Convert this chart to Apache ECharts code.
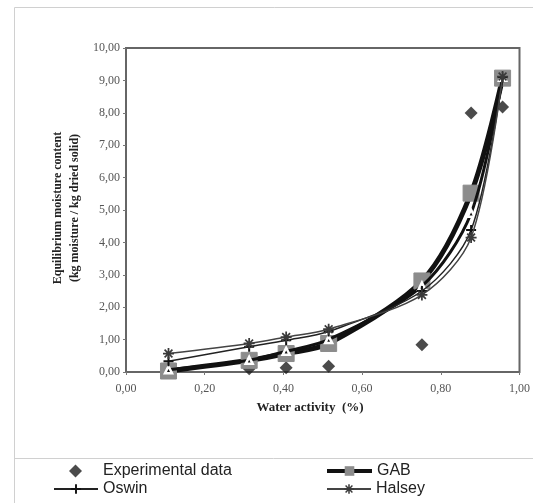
<!DOCTYPE html>
<html>
<head>
<meta charset="utf-8">
<script src="https://cdn.jsdelivr.net/npm/echarts@6/dist/echarts.min.js"></script>
<style>
  html, body { margin: 0; padding: 0; background: #fff; }
  #chart { width: 533px; height: 503px; }
</style>
</head>
<body>
<div id="chart"></div>
<script>
// Water activity of each measurement (aw)
const waterActivity = [0.108, 0.313, 0.407, 0.515, 0.752, 0.877, 0.957];

// Equilibrium moisture content (kg moisture / kg dried solid)
const experimental = [0.05, 0.10, 0.13, 0.18, 0.84, 7.99, 8.18];
const gab          = [0.03, 0.36, 0.57, 0.88, 2.81, 5.52, 9.07];
const triangleFit  = [0.07, 0.36, 0.64, 1.00, 2.65, 4.90, 9.10];
const oswin        = [0.33, 0.78, 0.98, 1.25, 2.50, 4.38, 9.10];
const halsey       = [0.57, 0.88, 1.08, 1.32, 2.38, 4.15, 9.12];

// Axis ticks
const xTicks = { min: 0, max: 1, step: 0.2 };
const yTicks = { min: 0, max: 10, step: 1 };

const pairs = ys => waterActivity.map((x, i) => [x, ys[i]]);
const comma = v => v.toFixed(2).replace('.', ',');

const diamondPath = 'path://M5,0L10,5L5,10L0,5Z';
const plusPath = 'path://M4,0H6V4H10V6H6V10H4V6H0V4H4Z';
const starPath = 'path://M4.2,0H5.8V3.1L8,0.9L9.1,2L6.9,4.2H10V5.8H6.9L9.1,8L8,9.1L5.8,6.9V10H4.2V6.9L2,9.1L0.9,8L3.1,5.8H0V4.2H3.1L0.9,2L2,0.9L4.2,3.1Z';

const serif = '"Liberation Serif", "DejaVu Serif", serif';
const sans = '"Liberation Sans", Arial, sans-serif';
const legendText = { fontFamily: sans, fontSize: 16, color: '#222' };

const chart = echarts.init(document.getElementById('chart'), null, { renderer: 'canvas' });

chart.setOption({
  animation: false,
  backgroundColor: '#fff',
  grid: {
    left: 126, right: 7, top: 48, bottom: 131,
    show: true, borderColor: '#666', borderWidth: 2, backgroundColor: '#fff'
  },
  xAxis: {
    type: 'value', min: xTicks.min, max: xTicks.max, interval: xTicks.step,
    axisLine: { show: false },
    axisTick: { show: true, length: 3, lineStyle: { color: '#777' } },
    splitLine: { show: false },
    axisLabel: { formatter: comma, fontFamily: serif, fontSize: 12, color: '#555', margin: 11 }
  },
  yAxis: {
    type: 'value', min: yTicks.min, max: yTicks.max, interval: yTicks.step,
    axisLine: { show: false },
    axisTick: { show: true, length: 3, lineStyle: { color: '#777' } },
    splitLine: { show: false },
    axisLabel: { formatter: comma, fontFamily: serif, fontSize: 12, color: '#555', margin: 6 }
  },
  legend: [
    { data: [{ name: 'Experimental data', icon: diamondPath }], left: 69, top: 463, padding: 0,
      itemWidth: 13, itemHeight: 13, symbolKeepAspect: true,
      textStyle: Object.assign({ padding: [0, 0, 0, 16] }, legendText) },
    { data: ['Oswin'], left: 53, top: 481, padding: 0, itemWidth: 44, itemHeight: 12, textStyle: legendText },
    { data: ['GAB'], left: 325, top: 463, padding: 0, itemWidth: 45, itemHeight: 12, textStyle: legendText,
      lineStyle: { width: 4 } },
    { data: ['Halsey'], left: 326, top: 481, padding: 0, itemWidth: 44, itemHeight: 12, textStyle: legendText }
  ],
  graphic: [
    // outer frame and legend separator
    { type: 'rect', silent: true, z: -10, shape: { x: 14.5, y: 7.5, width: 700, height: 700 },
      style: { fill: 'none', stroke: '#d0d0d0', lineWidth: 1 } },
    { type: 'line', silent: true, z: -10, shape: { x1: 14, y1: 458.5, x2: 533, y2: 458.5 },
      style: { stroke: '#d0d0d0', lineWidth: 1 } },
    // axis titles
    { type: 'text', x: 58, y: 208, rotation: Math.PI / 2,
      style: { text: 'Equilibrium moisture content', font: 'bold 12px ' + serif, fill: '#222',
               textAlign: 'center', textVerticalAlign: 'middle' } },
    { type: 'text', x: 75, y: 208, rotation: Math.PI / 2,
      style: { text: '(kg moisture / kg dried solid)', font: 'bold 12px ' + serif, fill: '#222',
               textAlign: 'center', textVerticalAlign: 'middle' } },
    { type: 'text', x: 310, y: 408,
      style: { text: 'Water activity  (%)', font: 'bold 13px ' + serif, fill: '#222',
               textAlign: 'center', textVerticalAlign: 'middle' } }
  ],
  series: [
    {
      name: 'Experimental data', type: 'scatter', data: pairs(experimental), z: 2,
      symbol: 'diamond', symbolSize: 13,
      itemStyle: { color: '#1e1e1e' }
    },
    {
      name: 'GAB', type: 'line', data: pairs(gab), smooth: 0.3, z: 3,
      lineStyle: { color: '#111', width: 5 },
      symbol: 'rect', symbolSize: 16,
      itemStyle: { color: '#8c8c8c', borderColor: '#8c8c8c' }
    },
    {
      name: 'triangle fit', type: 'line', data: pairs(triangleFit), smooth: 0.3, z: 4,
      lineStyle: { color: '#111', width: 3 },
      symbol: 'triangle', symbolSize: 7,
      itemStyle: { color: '#111', borderColor: '#fff', borderWidth: 2.5 }
    },
    {
      name: 'Oswin', type: 'line', data: pairs(oswin), smooth: 0.3, z: 5,
      lineStyle: { color: '#222', width: 1.5 },
      symbol: plusPath, symbolSize: 10,
      itemStyle: { color: '#111', borderWidth: 0 }
    },
    {
      name: 'Halsey', type: 'line', data: pairs(halsey), smooth: 0.3, z: 6,
      lineStyle: { color: '#444', width: 1.5 },
      symbol: starPath, symbolSize: 11,
      itemStyle: { color: '#3a3a3a', borderWidth: 0 }
    }
  ]
});
</script>
</body>
</html>
